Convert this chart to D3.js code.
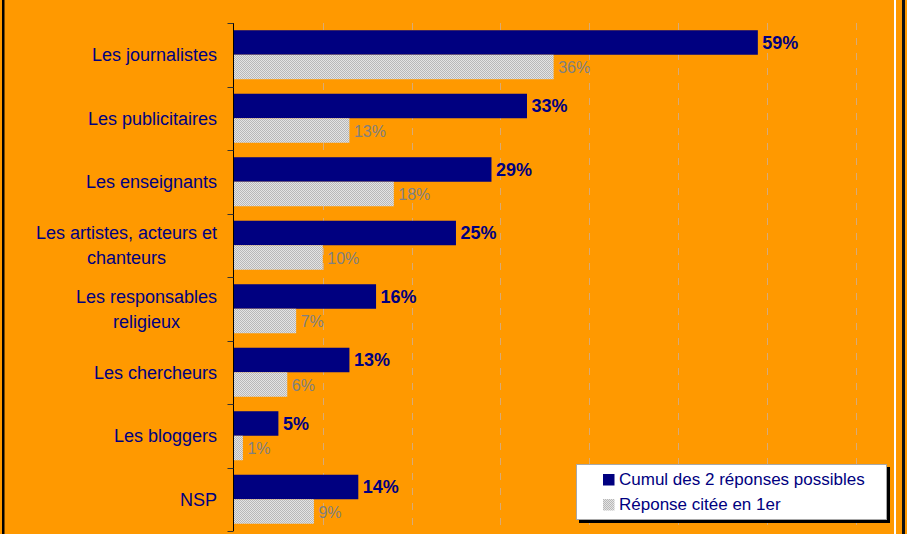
<!DOCTYPE html>
<html><head><meta charset="utf-8">
<script src="https://cdn.jsdelivr.net/npm/d3@7/dist/d3.min.js"></script>
<style>
html,body{margin:0;padding:0;background:#FF9900;}
svg{display:block;font-family:Arial,"Liberation Sans",sans-serif;}
</style></head><body>
<svg id="c" width="907" height="534"></svg>
<script>
const categories = ["Les journalistes","Les publicitaires","Les enseignants","Les artistes, acteurs et\nchanteurs","Les responsables\nreligieux","Les chercheurs","Les bloggers","NSP"];
const cumulValues = [59,33,29,25,16,13,5,14];
const firstValues = [36,13,18,10,7,6,1,9];
const seriesNames = ["Cumul des 2 réponses possibles","Réponse citée en 1er"];
const xTicks = [10,20,30,40,50,60,70];

const svg = d3.select("#c");
const W = 907, H = 534;
svg.append("rect").attr("width",W).attr("height",H).attr("fill","#FF9900");

const defs = svg.append("defs");
const pat = defs.append("pattern").attr("id","chk").attr("patternUnits","userSpaceOnUse")
  .attr("width",2).attr("height",2);
pat.append("rect").attr("width",2).attr("height",2).attr("fill","#e4e4e4");
pat.append("rect").attr("width",1).attr("height",1).attr("fill","#b8b8b8");
pat.append("rect").attr("x",1).attr("y",1).attr("width",1).attr("height",1).attr("fill","#b8b8b8");

// frame lines
svg.append("rect").attr("x",2).attr("y",0).attr("width",2.5).attr("height",H).attr("fill","#000");
svg.append("rect").attr("x",894).attr("y",0).attr("width",2).attr("height",H).attr("fill","#fff");
svg.append("rect").attr("x",902).attr("y",0).attr("width",3).attr("height",H).attr("fill","#111");

const x = d3.scaleLinear().domain([0,70]).range([234,855.5]);
const y = d3.scaleBand().domain(categories).range([23,531]).paddingInner(0.228).paddingOuter(0.114);
const ys = d3.scaleBand().domain([0,1]).range([0,y.bandwidth()]);

// gridlines
svg.append("g").selectAll("line").data(xTicks).join("line")
  .attr("x1",d=>Math.round(x(d))+0.5).attr("x2",d=>Math.round(x(d))+0.5)
  .attr("y1",23).attr("y2",531)
  .attr("stroke","#d8ab78").attr("stroke-width",1).attr("stroke-dasharray","7,8");

const rows = categories.map((c,i)=>({c, v:[cumulValues[i], firstValues[i]]}));

const g = svg.append("g");
rows.forEach(r=>{
  const y0 = y(r.c);
  [0,1].forEach(s=>{
    g.append("rect").attr("x",x(0)).attr("y",y0+ys(s))
      .attr("width",x(r.v[s])-x(0)).attr("height",ys.bandwidth())
      .attr("fill", s===0 ? "#000080" : "url(#chk)");
    g.append("text").attr("x",x(r.v[s])+4.5).attr("y",y0+ys(s)+ys.bandwidth()/2)
      .attr("dy", s===0 ? "0.36em" : "0.38em")
      .attr("font-size", s===0 ? 18 : 16)
      .attr("font-weight", s===0 ? "bold" : "normal")
      .attr("fill", s===0 ? "#000080" : "#808080")
      .text(r.v[s] + "%");
  });
});

// axis
const ax = svg.append("g").attr("transform","translate(233.5,0)");
ax.append("line").attr("x1",0).attr("x2",0).attr("y1",23).attr("y2",531).attr("stroke","#000").attr("stroke-width",1);
const bounds = categories.map(c=>y(c)-y.step()*y.paddingInner()/2).concat([531]);
ax.selectAll("line.t").data(bounds).join("line").attr("class","t")
  .attr("x1",-6).attr("x2",0).attr("y1",d=>Math.round(d)+0.5).attr("y2",d=>Math.round(d)+0.5)
  .attr("stroke","#333").attr("stroke-width",1);

// category labels
const lg = svg.append("g");
categories.forEach(c=>{
  const lines = c.split("\n");
  const cy = y(c) + y.bandwidth()/2;
  const lh = 25;
  const t = lg.append("text").attr("font-size",18).attr("fill","#000080");
  const tspans = lines.map((ln,k)=> t.append("tspan").attr("y", cy + (k-(lines.length-1)/2)*lh).attr("dy","0.35em").text(ln));
  const widths = tspans.map(s=>s.node().getComputedTextLength());
  const maxW = d3.max(widths);
  const right = 217;
  tspans.forEach(s=>s.attr("x", right - maxW/2).attr("text-anchor","middle"));
});

// legend
const L = svg.append("g");
L.append("rect").attr("x",579).attr("y",467).attr("width",311).attr("height",56).attr("fill","#000");
L.append("rect").attr("x",576.5).attr("y",464.5).attr("width",310).attr("height",55).attr("fill","#fff").attr("stroke","#a8a8a8").attr("stroke-width",1);
seriesNames.forEach((n,i)=>{
  const yy = 474 + i*25;
  L.append("rect").attr("x",603).attr("y",yy).attr("width",11.5).attr("height",11.5)
    .attr("fill", i===0 ? "#000080" : "url(#chk)");
  L.append("text").attr("x",619).attr("y",yy+10.5).attr("font-size",17).attr("fill","#000080").text(n);
});
</script>
</body></html>
